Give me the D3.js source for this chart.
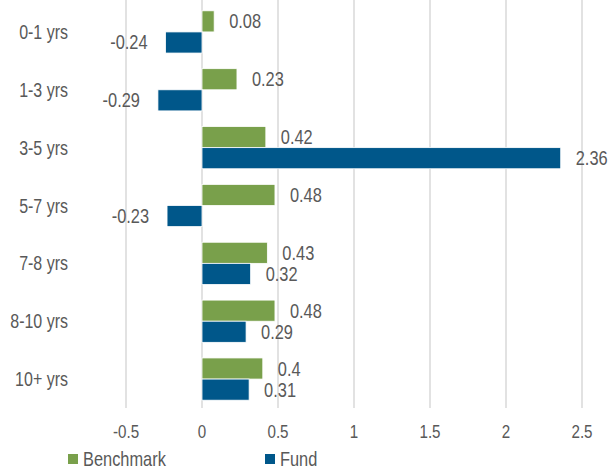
<!DOCTYPE html>
<html>
<head>
<meta charset="utf-8">
<script src="https://cdn.jsdelivr.net/npm/d3@7"></script>
<style>
  body { margin: 0; background: #fff; }
  text { font-family: "Liberation Sans", Arial, sans-serif; fill: #595959; }
</style>
</head>
<body>
<svg width="608" height="472"></svg>
<script>
const categories = ['0-1 yrs', '1-3 yrs', '3-5 yrs', '5-7 yrs', '7-8 yrs', '8-10 yrs', '10+ yrs'];
const benchmark = [0.08, 0.23, 0.42, 0.48, 0.43, 0.48, 0.4];
const fund = [-0.24, -0.29, 2.36, -0.23, 0.32, 0.29, 0.31];
const seriesNames = ['Benchmark', 'Fund'];
const xTicks = [-0.5, 0, 0.5, 1, 1.5, 2, 2.5];

const svg = d3.select('svg');
const narrow = 0.82; // no narrow font installed, squeeze the regular one

// place text at (px, py), squeezed horizontally
const place = (px, py) => `translate(${px},${py}) scale(${narrow},1)`;

const colorScale = d3.scaleOrdinal()
    .domain(seriesNames)
    .range(['#79a04b', '#00578a']);

const x = d3.scaleLinear().domain([-0.5, 2.5]).range([126, 582]);
const y = d3.scaleBand().domain(categories).range([3, 408]).paddingInner(0.27).paddingOuter(0.135);
const ySub = d3.scaleBand().domain(seriesNames).range([0, y.bandwidth()]);

// gridlines
svg.append('g')
    .selectAll('line')
    .data(xTicks)
    .enter().append('line')
        .attr('x1', d => x(d)).attr('x2', d => x(d))
        .attr('y1', 0).attr('y2', 408)
        .attr('stroke', '#d9d9d9')
        .attr('stroke-width', 1.5);

// x tick labels
svg.append('g')
    .selectAll('text')
    .data(xTicks)
    .enter().append('text')
        .attr('transform', d => place(x(d), 438))
        .attr('text-anchor', 'middle')
        .attr('font-size', 18.5)
        .text(d => d);

// category labels
svg.append('g')
    .selectAll('text')
    .data(categories)
    .enter().append('text')
        .attr('transform', d => place(68, y(d) + y.bandwidth() / 2 + 7))
        .attr('text-anchor', 'end')
        .attr('font-size', 19.5)
        .text(d => d);

const rows = categories.flatMap((c, i) => [
    { cat: c, series: 'Benchmark', value: benchmark[i] },
    { cat: c, series: 'Fund', value: fund[i] }
]);

const bars = svg.append('g');
bars.selectAll('rect')
    .data(rows)
    .enter().append('rect')
        .attr('x', d => x(Math.min(0, d.value)))
        .attr('y', d => y(d.cat) + ySub(d.series))
        .attr('width', d => Math.abs(x(d.value) - x(0)))
        .attr('height', ySub.bandwidth())
        .attr('fill', d => colorScale(d.series))
        .attr('stroke', '#fff')
        .attr('stroke-width', 0.8);

bars.selectAll('text')
    .data(rows)
    .enter().append('text')
        .attr('transform', d => place(
            d.value >= 0 ? x(d.value) + 15 : x(d.value) - 18,
            y(d.cat) + ySub(d.series) + ySub.bandwidth() / 2 + 7))
        .attr('text-anchor', d => d.value >= 0 ? 'start' : 'end')
        .attr('font-size', 20)
        .text(d => d.value);

// legend
const legend = svg.append('g')
    .selectAll('g')
    .data(seriesNames)
    .enter().append('g')
        .attr('transform', (d, i) => `translate(${i === 0 ? 68 : 265},454)`);
legend.append('rect')
    .attr('width', 10).attr('height', 10)
    .attr('fill', d => colorScale(d));
legend.append('text')
    .attr('transform', place(15, 12))
    .attr('font-size', 20)
    .text(d => d);
</script>
</body>
</html>
